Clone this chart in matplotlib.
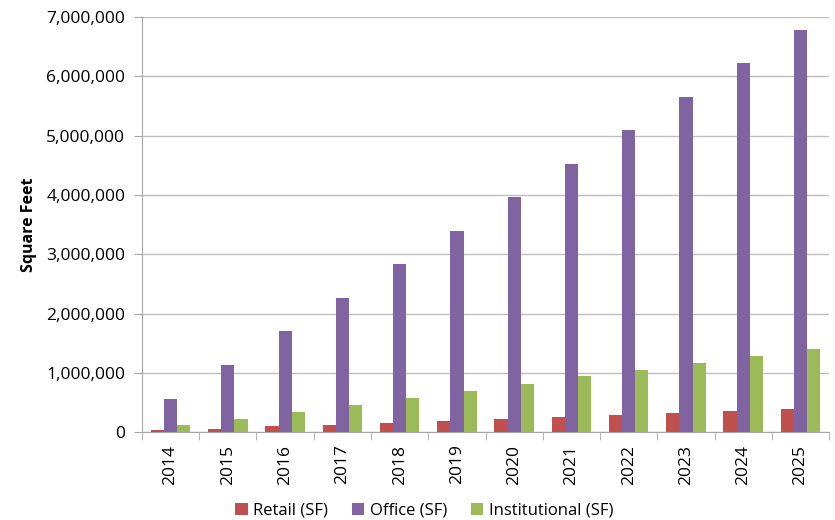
import numpy as np
import matplotlib.pyplot as plt
from matplotlib.ticker import FuncFormatter, FixedLocator

years = ['2014', '2015', '2016', '2017', '2018', '2019', '2020', '2021', '2022', '2023', '2024', '2025']
retail = [34000, 56000, 96000, 122000, 157000, 185000, 225000, 260000, 290000, 326000, 354000, 383000]
office = [565000, 1130000, 1700000, 2265000, 2830000, 3395000, 3960000, 4525000, 5090000, 5660000, 6220000, 6790000]
institutional = [113000, 225000, 340000, 460000, 580000, 700000, 820000, 940000, 1050000, 1165000, 1285000, 1400000]

plt.rcParams['font.family'] = ['Open Sans', 'DejaVu Sans']

fig = plt.figure(figsize=(8.35, 5.2), dpi=100)
ax = fig.add_axes([0.170, 0.169, 0.823, 0.798])

x = np.arange(len(years))
w = 0.23
ax.bar(x - w, retail, w, color='#C0504D', label='Retail (SF)', zorder=3)
ax.bar(x, office, w, color='#8064A2', label='Office (SF)', zorder=3)
ax.bar(x + w, institutional, w, color='#9BBB59', label='Institutional (SF)', zorder=3)

ax.set_xlim(-0.5, len(years) - 0.5)
ax.set_ylim(0, 7000000)
ax.set_yticks(np.arange(0, 7000001, 1000000))
ax.yaxis.set_major_formatter(FuncFormatter(lambda v, p: f'{int(v):,}'))
ax.grid(axis='y', color='#BFBFBF', linewidth=1, zorder=0)

ax.set_xticks(x)
ax.set_xticklabels(years, rotation=90, fontsize=12.5)
ax.xaxis.set_minor_locator(FixedLocator(np.arange(-0.5, len(years), 1)))
ax.tick_params(axis='x', which='major', length=0, pad=9)
ax.tick_params(axis='x', which='minor', length=6, color='#A6A6A6')
ax.tick_params(axis='y', length=6, color='#A6A6A6', labelsize=12.5, pad=6)

for s in ['top', 'right']:
    ax.spines[s].set_visible(False)
for s in ['left', 'bottom']:
    ax.spines[s].set_color('#A6A6A6')

ax.set_ylabel('Square Feet', fontsize=11.5, fontweight='bold', labelpad=7)

fig.legend(loc='lower center', bbox_to_anchor=(0.508, -0.026), ncol=3, frameon=False,
           fontsize=12, handlelength=0.75, handleheight=0.75, handletextpad=0.35, columnspacing=1.4)

fig.savefig('out.png', dpi=100)
